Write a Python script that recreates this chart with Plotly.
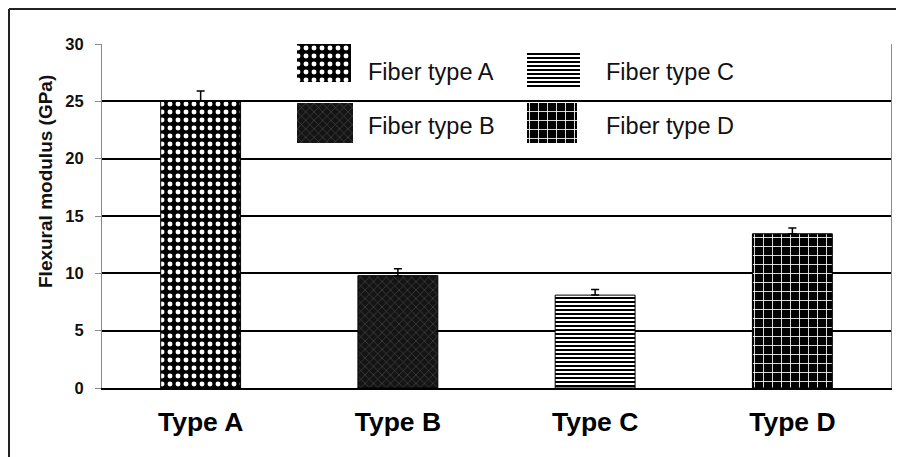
import plotly.graph_objects as go

# ---- data ----
categories = ["Type A", "Type B", "Type C", "Type D"]
modulus = [25.0, 9.8, 8.1, 13.45]
modulus_err = [0.9, 0.6, 0.5, 0.5]
legend_names = ["Fiber type A", "Fiber type B", "Fiber type C", "Fiber type D"]
y_ticks = [0, 5, 10, 15, 20, 25, 30]

# ---- styles ----
FONT = "Arial, Liberation Sans, sans-serif"
patterns = [
    dict(shape=".", bgcolor="black", fgcolor="white", size=8, solidity=0.3),
    dict(shape="x", bgcolor="#141414", fgcolor="#4a4a4a", size=6, solidity=0.2),
    dict(shape="-", bgcolor="white", fgcolor="black", size=4, solidity=0.5),
    dict(shape="+", bgcolor="black", fgcolor="white", size=9, solidity=0.18),
]

# page body has an 8px margin: figure sized to fit the 904x457 window
W, H = 896, 449
ML, MR, MT, MB = 94, 13, 36, 69
PW, PH = W - ML - MR, H - MT - MB

fig = go.Figure()
fig.add_trace(go.Bar(
    x=categories, y=modulus,
    marker=dict(
        color="black", line=dict(color="black", width=1),
        pattern=dict(
            shape=[p["shape"] for p in patterns],
            bgcolor=[p["bgcolor"] for p in patterns],
            fgcolor=[p["fgcolor"] for p in patterns],
            size=[p["size"] for p in patterns],
            solidity=[p["solidity"] for p in patterns],
            fillmode="replace",
        ),
    ),
    error_y=dict(type="data", symmetric=False, array=modulus_err,
                 arrayminus=[0] * len(modulus_err),
                 color="black", thickness=1.5, width=4),
    showlegend=False,
))

# ---- custom legend (pixel-space overlay axes) ----
legend_layout = [  # (x0, x1, y0, y1, text_x, text_y) in pixels relative to plot top-left
    (195, 249, 0, 38, 264, 28),
    (195, 251, 59, 99, 264, 82),
    (425, 478, 9, 45, 502, 28),
    (425, 475, 59, 99, 502, 82),
]
for name, pat, (x0, x1, y0, y1, tx, ty) in zip(legend_names, patterns, legend_layout):
    fig.add_trace(go.Scatter(
        x=[x0, x1, x1, x0, x0], y=[y0, y0, y1, y1, y0],
        xaxis="x2", yaxis="y2", mode="lines", line=dict(width=0),
        fill="toself", fillcolor=pat["bgcolor"],
        fillpattern=dict(shape=pat["shape"], bgcolor=pat["bgcolor"], fgcolor=pat["fgcolor"],
                         size=pat["size"], solidity=pat["solidity"], fillmode="replace"),
        hoverinfo="skip", showlegend=False,
    ))
    fig.add_annotation(x=tx, y=ty, xref="x2", yref="y2", text=name, showarrow=False,
                       xanchor="left", yanchor="middle",
                       font=dict(family=FONT, size=23.5, color="#111"))

fig.update_layout(
    width=W, height=H,
    margin=dict(l=ML, r=MR, t=MT, b=MB, pad=0),
    paper_bgcolor="white", plot_bgcolor="white",
    bargap=0.595,
    showlegend=False,
    xaxis=dict(
        showline=True, linecolor="black", linewidth=2,
        tickfont=dict(family=FONT, size=26.5, color="black", weight="bold"),
        ticks="", ticklabelstandoff=9, showgrid=False, zeroline=False,
    ),
    yaxis=dict(
        range=[0, 30], tickvals=y_ticks,
        showgrid=True, gridcolor="black", gridwidth=2,
        showline=True, linecolor="#8a8a8a", linewidth=1, mirror=True,
        ticks="outside", ticklen=6, tickcolor="#8a8a8a", tickwidth=1,
        ticklabelstandoff=8,
        tickfont=dict(family=FONT, size=16.5, color="#111", weight="bold"),
        zeroline=False,
    ),
    xaxis2=dict(overlaying="x", anchor="y2", range=[0, PW], visible=False, fixedrange=True),
    yaxis2=dict(overlaying="y", anchor="x2", range=[PH, 0], visible=False, fixedrange=True),
)

# y-axis title (positioned as in the reference, above plot centre)
fig.add_annotation(
    x=(37 - ML) / PW, y=(MT + PH - 174) / PH, xref="paper", yref="paper",
    xanchor="center", yanchor="middle",
    text="Flexural modulus (GPa)", textangle=-90, showarrow=False,
    font=dict(family=FONT, size=19, color="#111", weight="bold"),
)

# outer frame (top and left edges)
fx = (1 - ML) / PW
fy = (MT + PH - 1) / PH
fig.add_shape(type="line", xref="paper", yref="paper", x0=fx, x1=(W - ML) / PW, y0=fy, y1=fy,
              line=dict(color="#222", width=2))
fig.add_shape(type="line", xref="paper", yref="paper", x0=fx, x1=fx, y0=fy, y1=(MT + PH - H) / PH,
              line=dict(color="#222", width=2))

fig.write_html("out.html")
